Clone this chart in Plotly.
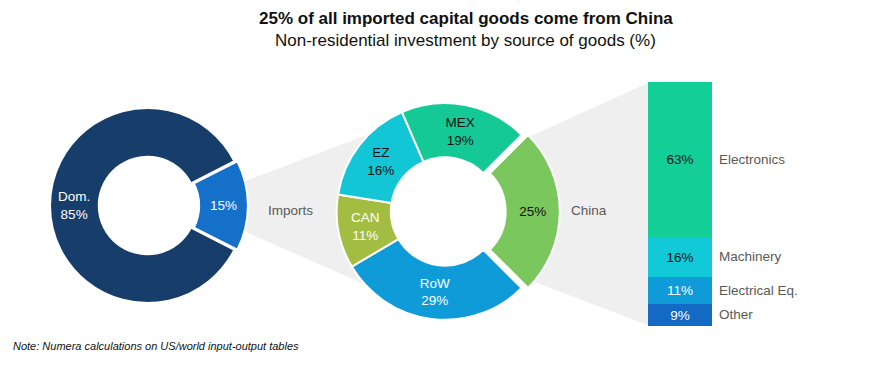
import math
import plotly.graph_objects as go

W, H = 890, 373

# ---- data ----
total_labels = ["Imports", "Dom."]
total_values = [15, 85]

import_labels = ["China", "RoW", "CAN", "EZ", "MEX"]
import_values = [25, 29, 11, 16, 19]

china_labels = ["Other", "Electrical Eq.", "Machinery", "Electronics"]
china_values = [9, 11, 16, 63]

title = "25% of all imported capital goods come from China"
subtitle = "Non-residential investment by source of goods (%)"
note = "Note: Numera calculations on US/world input-output tables"

# ---- styles ----
FONT = "Liberation Sans, Arial, sans-serif"
GRAY_TXT = "#595959"
WEDGE = "#EFEFEF"
LBL = 13.5
total_colors = ["#1570C9", "#173E6A"]
total_txtcol = ["white", "white"]
import_colors = ["#7AC75E", "#0E9BD8", "#A3BD42", "#12C6D6", "#14C996"]
import_txtcol = ["#111111", "white", "white", "#111111", "#111111"]
china_colors = ["#1469C4", "#0E9BD8", "#12CAD7", "#14CE97"]
china_txtcol = ["white", "white", "#111111", "#111111"]

OFF = 8  # page body margin of the browser


def px(x):
    return (x - OFF) / W


def py(y):
    return 1 - (y - OFF) / H


def pie_domain(cx, cy, r, pull):
    h = r * (1 + pull)
    return dict(x=[px(cx - h), px(cx + h)], y=[py(cy + h), py(cy - h)])


fig = go.Figure()

# left donut
c1x, c1y, r1, p1 = 147.5, 205.5, 97.5, 0.03
rot1 = 90 - total_values[0] * 3.6 / 2
fig.add_trace(go.Pie(
    labels=total_labels, values=total_values,
    text=["%d%%" % v if l == "Imports" else "" for l, v in zip(total_labels, total_values)],
    textinfo="text", textposition="inside", insidetextorientation="horizontal",
    insidetextfont=dict(color=total_txtcol, size=LBL, family=FONT),
    marker=dict(colors=total_colors, line=dict(color="white", width=2)),
    hole=0.5, sort=False, direction="clockwise", rotation=rot1,
    pull=[p1, 0], domain=pie_domain(c1x, c1y, r1, p1),
    hoverinfo="skip",
))
# label of the large domestic slice, at its mid angle in the middle of the ring
mid_deg = rot1 + (total_values[0] + total_values[1] / 2) * 3.6  # clockwise from 12 o'clock
rr = r1 * 0.75
fig.add_annotation(
    x=px(c1x + rr * math.sin(math.radians(mid_deg))),
    y=py(c1y - rr * math.cos(math.radians(mid_deg))),
    xref="paper", yref="paper", showarrow=False, xanchor="center", yanchor="middle",
    text="%s<br>%d%%" % (total_labels[1], total_values[1]),
    font=dict(color=total_txtcol[1], size=LBL, family=FONT))

# middle donut
p2 = 0.06
fig.add_trace(go.Pie(
    labels=import_labels, values=import_values,
    text=["%d%%" % v if l == "China" else "%s<br>%d%%" % (l, v)
          for l, v in zip(import_labels, import_values)],
    textinfo="text", textposition="inside", insidetextorientation="horizontal",
    insidetextfont=dict(color=import_txtcol, size=LBL, family=FONT),
    marker=dict(colors=import_colors, line=dict(color="white", width=2)),
    hole=0.5, sort=False, direction="clockwise",
    rotation=90 - import_values[0] * 3.6 / 2,
    pull=[p2, 0, 0, 0, 0], domain=pie_domain(445, 211.5, 108.3, p2),
    hoverinfo="skip",
))

# stacked bar
for l, v, c, tc in zip(china_labels, china_values, china_colors, china_txtcol):
    fig.add_trace(go.Bar(
        x=[0], y=[v], width=1, marker=dict(color=c, line=dict(width=0)),
        text=["%d%%" % v], textposition="inside", insidetextanchor="middle",
        textangle=0, textfont=dict(color=tc, size=LBL, family=FONT),
        hoverinfo="skip", name=l,
    ))

# side labels of bar
cum = 0
for l, v in zip(china_labels, china_values):
    fig.add_annotation(x=0.5, y=cum + v / 2, xref="x", yref="y", text=l,
                       showarrow=False, xanchor="left", yanchor="middle", xshift=5,
                       font=dict(color=GRAY_TXT, size=LBL, family=FONT))
    cum += v

# wedge connectors
fig.add_shape(type="path", xref="paper", yref="paper", layer="below",
              path="M %f %f L %f %f L %f %f L %f %f Z" % (
                  px(240), py(183), px(380), py(130), px(380), py(291), px(240), py(229.5)),
              fillcolor=WEDGE, line=dict(width=0))
fig.add_shape(type="path", xref="paper", yref="paper", layer="below",
              path="M %f %f L %f %f L %f %f L %f %f Z" % (
                  px(530), py(136.4), px(650), py(82), px(650), py(326), px(530), py(280.2)),
              fillcolor=WEDGE, line=dict(width=0))

# labels
fig.add_annotation(x=px(266), y=py(210), xref="paper", yref="paper", text=total_labels[0],
                   showarrow=False, xanchor="left", yanchor="middle",
                   font=dict(color=GRAY_TXT, size=LBL, family=FONT))
fig.add_annotation(x=px(569), y=py(210), xref="paper", yref="paper", text=import_labels[0],
                   showarrow=False, xanchor="left", yanchor="middle",
                   font=dict(color=GRAY_TXT, size=LBL, family=FONT))
fig.add_annotation(x=px(466), y=py(18), xref="paper", yref="paper", text="<b>%s</b>" % title,
                   showarrow=False, xanchor="center", yanchor="middle",
                   font=dict(color="#111111", size=17, family=FONT))
fig.add_annotation(x=px(466), y=py(40), xref="paper", yref="paper", text=subtitle,
                   showarrow=False, xanchor="center", yanchor="middle",
                   font=dict(color="#111111", size=17, family=FONT))
fig.add_annotation(x=px(11), y=py(346), xref="paper", yref="paper", text="<i>%s</i>" % note,
                   showarrow=False, xanchor="left", yanchor="middle",
                   font=dict(color="#111111", size=11, family=FONT))

fig.update_layout(
    width=W, height=H, margin=dict(l=0, r=0, t=0, b=0),
    paper_bgcolor="white", plot_bgcolor="rgba(0,0,0,0)",
    showlegend=False, barmode="stack", bargap=0,
    xaxis=dict(domain=[px(648), px(712)], range=[-0.5, 0.5], visible=False, fixedrange=True),
    yaxis=dict(domain=[py(326), py(82)], range=[0, sum(china_values)], visible=False, fixedrange=True),
)

fig.write_html("out.html")
